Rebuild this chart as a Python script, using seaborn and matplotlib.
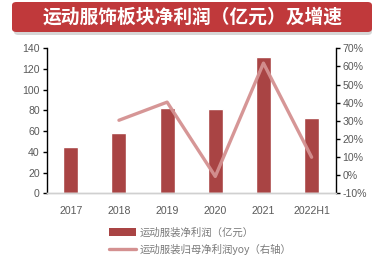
import numpy as np
import pandas as pd
import matplotlib
matplotlib.use("Agg")
import matplotlib.pyplot as plt
import seaborn as sns
from matplotlib.patches import FancyBboxPatch, Patch
from matplotlib.lines import Line2D
from matplotlib.ticker import FuncFormatter

sns.set_theme(style="white")
plt.rcParams['font.family'] = ['Liberation Sans', 'Noto Sans CJK SC', 'DejaVu Sans']

title = "运动服饰板块净利润（亿元）及增速"
categories = ["2017", "2018", "2019", "2020", "2021", "2022H1"]
profit = [45, 58, 82.5, 81.5, 132, 72.5]
yoy_categories = ["2018", "2019", "2020", "2021", "2022H1"]
yoy = [30.3, 40.3, -0.7, 61.8, 9.9]
bar_label = "运动服装净利润（亿元）"
line_label = "运动服装归母净利润yoy（右轴）"

bar_color = "#a94444"
line_color = "#d49191"
tick_color = "#5a5a5a"

fig = plt.figure(figsize=(3.75, 2.76), dpi=100)
fig.patch.set_facecolor("white")

# Title banner
shadow = FancyBboxPatch((14/375, 1 - 35/276), 358/375, 30/276,
                        boxstyle="round,pad=0,rounding_size=0.012",
                        transform=fig.transFigure, facecolor="#bbbbbb",
                        edgecolor="none", alpha=0.6, zorder=0)
fig.patches.append(shadow)
banner = FancyBboxPatch((12/375, 1 - 32/276), 360/375, 30/276,
                        boxstyle="round,pad=0,rounding_size=0.012",
                        transform=fig.transFigure, facecolor="#c0393b",
                        edgecolor="none", zorder=1)
fig.patches.append(banner)
fig.text(193/375, 1 - 17/276, title, ha="center", va="center", color="white",
         fontsize=13.5, fontweight="bold",
         family=['Noto Sans CJK SC', 'DejaVu Sans'], zorder=2)

ax = fig.add_axes([46.7/375, 1 - 193.3/276, 289/375, 145/276])
df = pd.DataFrame({"cat": categories, "profit": profit})
sns.barplot(data=df, x="cat", y="profit", ax=ax, color=bar_color,
            width=0.31, saturation=1, order=categories)
ax.set_xlim(-0.5, len(categories) - 0.5)
ax.set_ylim(0, 140)
ax.set_yticks(np.arange(0, 141, 20))
ax.set_xlabel("")
ax.set_ylabel("")

ax2 = ax.twinx()
line_x = [categories.index(c) for c in yoy_categories]
sns.lineplot(x=line_x, y=yoy, ax=ax2, color=line_color, linewidth=2.4,
             alpha=0.95)
ax2.set_ylim(-10, 70)
ax2.set_yticks(np.arange(-10, 71, 10))
ax2.yaxis.set_major_formatter(FuncFormatter(lambda v, p: f"{int(round(v))}%"))
ax2.set_xlim(-0.5, len(categories) - 0.5)

for a in (ax, ax2):
    a.spines["top"].set_visible(False)
    a.spines["bottom"].set_color("#d0d0d0")
    a.spines["bottom"].set_linewidth(1.0)
ax.spines["left"].set_color("black")
ax.spines["left"].set_linewidth(1.0)
ax.spines["right"].set_visible(False)
ax2.spines["left"].set_visible(False)
ax2.spines["right"].set_color("black")
ax2.spines["right"].set_linewidth(1.0)

ax.tick_params(axis="y", left=True, direction="out", length=3, width=1,
               color="black", labelsize=7.6, labelcolor=tick_color, pad=2)
ax.tick_params(axis="x", bottom=False, labelsize=7.6, labelcolor=tick_color, pad=3)
ax2.tick_params(axis="y", right=True, direction="out", length=3, width=1,
                color="black", labelsize=7.6, labelcolor=tick_color, pad=2)
ax.grid(False)
ax2.grid(False)

handles = [Patch(facecolor=bar_color, edgecolor="none"),
           Line2D([0], [0], color=line_color, linewidth=2.4)]
leg = fig.legend(handles, [bar_label, line_label], loc="upper left",
                 bbox_to_anchor=(100/375, 1 - 218/276), frameon=False,
                 handlelength=2.6, handleheight=0.9,
                 handletextpad=0.35, labelspacing=0.65,
                 prop={'family': ['Noto Sans CJK SC', 'DejaVu Sans'], 'size': 7.5})
for t in leg.get_texts():
    t.set_color("#7a7a7a")

fig.savefig("out.png", dpi=100, facecolor="white")
